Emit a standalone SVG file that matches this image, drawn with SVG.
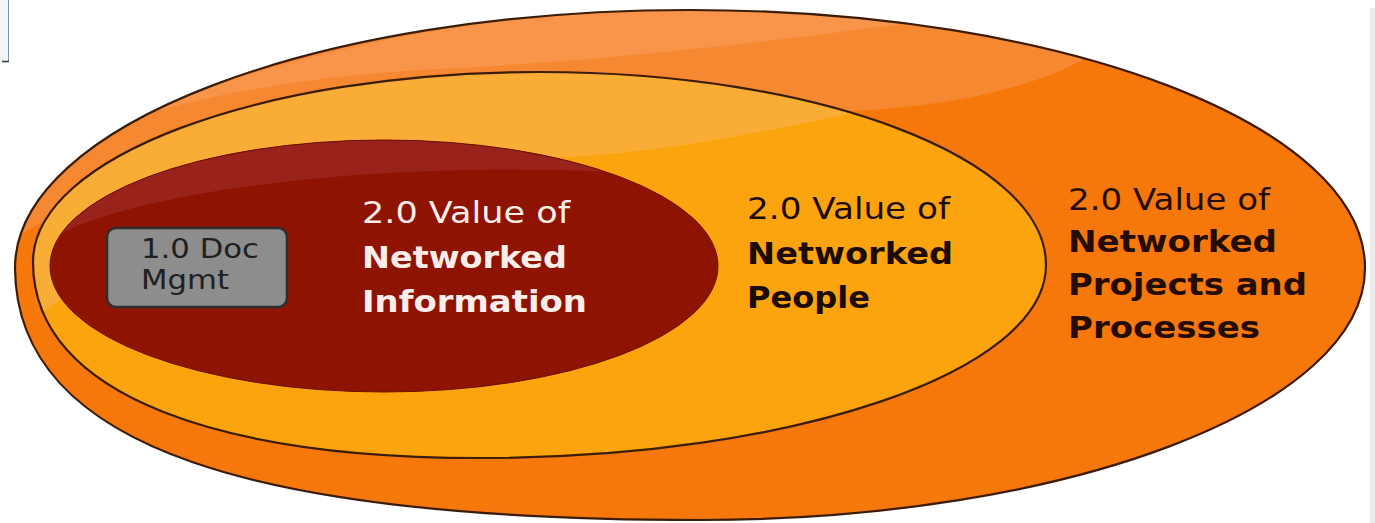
<svg xmlns="http://www.w3.org/2000/svg" width="1375" height="523" viewBox="0 0 1375 523">
  <style>
    .ring-edge { stroke: #3b1c07; stroke-width: 2.2; }
    .lbl { font-family: "DejaVu Sans", Verdana, sans-serif; font-size: 30px; }
    .lbl-b { font-weight: bold; }
    .on-red { fill: #fbeeea; }
    .on-gold { fill: #1c0b00; }
    .on-orange { fill: #250c00; }
    .doc-lbl { font-family: "DejaVu Sans", Verdana, sans-serif; font-size: 26px; fill: #202020; }
  </style>
  <defs>
    <clipPath id="clip-outer">
      <path d="M 15,268 C 15,125 317,10 690,10 C 1063,10 1365,125 1365,268 C 1365,407 1067,520 700,520 C 260,520 16,450 15,268 Z"/>
    </clipPath>
    <clipPath id="clip-middle">
      <path d="M 33,262 C 33,157 260,72 540,72 C 819,72 1046,158 1046,265 C 1046,372 793,458 480,458 C 230,458 33,400 33,262 Z"/>
    </clipPath>
    <clipPath id="clip-inner">
      <ellipse cx="384" cy="266" rx="334" ry="126"/>
    </clipPath>
  </defs>

  <rect width="1375" height="523" fill="#ffffff"/>

  <!-- window edge remnants along the borders -->
  <rect x="0" y="0" width="8.5" height="62" fill="#f3f5f8"/>
  <line x1="8.5" y1="0" x2="8.5" y2="62" stroke="#7d8ea6" stroke-width="1"/>
  <line x1="2" y1="61.5" x2="9" y2="61.5" stroke="#2c3644" stroke-width="1.5"/>
  <rect x="1370" y="8" width="5" height="515" fill="#ececec"/>

  <!-- outer ring: projects and processes -->
  <g id="ring-outer">
    <path d="M 15,268 C 15,125 317,10 690,10 C 1063,10 1365,125 1365,268 C 1365,407 1067,520 700,520 C 260,520 16,450 15,268 Z" fill="#f6780b"/>
    <g clip-path="url(#clip-outer)">
      <path d="M 10,240 C 200,130 560,118 830,112 C 950,108 1040,88 1100,50 L 1100,0 L 0,0 Z" fill="#f78832"/>
      <path d="M 140,116 C 250,82 380,71 460,68 C 640,58 800,38 930,20 L 930,-10 C 600,-10 300,40 140,116 Z" fill="#f8954a"/>
    </g>
    <path d="M 15,268 C 15,125 317,10 690,10 C 1063,10 1365,125 1365,268 C 1365,407 1067,520 700,520 C 260,520 16,450 15,268 Z" fill="none" class="ring-edge"/>
    <text class="lbl on-orange" x="1068" y="210" textLength="202" lengthAdjust="spacingAndGlyphs">2.0 Value of</text>
    <text class="lbl lbl-b on-orange" x="1068" y="252" textLength="209" lengthAdjust="spacingAndGlyphs">Networked</text>
    <text class="lbl lbl-b on-orange" x="1068" y="295" textLength="239" lengthAdjust="spacingAndGlyphs">Projects and</text>
    <text class="lbl lbl-b on-orange" x="1068" y="338" textLength="192" lengthAdjust="spacingAndGlyphs">Processes</text>
  </g>

  <!-- middle ring: people -->
  <g id="ring-middle">
    <path d="M 33,262 C 33,157 260,72 540,72 C 819,72 1046,158 1046,265 C 1046,372 793,458 480,458 C 230,458 33,400 33,262 Z" fill="#fba40e"/>
    <g clip-path="url(#clip-middle)">
      <path d="M 20,330 C 150,220 400,165 570,157 C 690,150 790,125 870,110 L 870,0 L 0,0 Z" fill="#f9ad37"/>
    </g>
    <path d="M 33,262 C 33,157 260,72 540,72 C 819,72 1046,158 1046,265 C 1046,372 793,458 480,458 C 230,458 33,400 33,262 Z" fill="none" class="ring-edge"/>
    <text class="lbl on-gold" x="747" y="219" textLength="203" lengthAdjust="spacingAndGlyphs">2.0 Value of</text>
    <text class="lbl lbl-b on-gold" x="747" y="264" textLength="206" lengthAdjust="spacingAndGlyphs">Networked</text>
    <text class="lbl lbl-b on-gold" x="747" y="308" textLength="123" lengthAdjust="spacingAndGlyphs">People</text>
  </g>

  <!-- inner ring: information -->
  <g id="ring-inner">
    <ellipse cx="384" cy="266" rx="334" ry="126" fill="#8e1300"/>
    <g clip-path="url(#clip-inner)">
      <path d="M 40,245 C 120,190 380,160 620,172 L 620,0 L 0,0 Z" fill="#99231a"/>
    </g>
    <ellipse cx="384" cy="266" rx="334" ry="126" fill="none" stroke="#6a0f00" stroke-width="1"/>
    <text class="lbl on-red" x="362" y="223" textLength="208" lengthAdjust="spacingAndGlyphs">2.0 Value of</text>
    <text class="lbl lbl-b on-red" x="362" y="268" textLength="205" lengthAdjust="spacingAndGlyphs">Networked</text>
    <text class="lbl lbl-b on-red" x="362" y="312" textLength="225" lengthAdjust="spacingAndGlyphs">Information</text>
  </g>

  <!-- legacy document management box -->
  <g id="doc-mgmt">
    <rect x="107" y="228" width="180" height="79" rx="9" fill="#8d8d8d" stroke="#2e2e2e" stroke-width="2.5"/>
    <text class="doc-lbl" x="141" y="258" textLength="118" lengthAdjust="spacingAndGlyphs">1.0 Doc</text>
    <text class="doc-lbl" x="141" y="289" textLength="88" lengthAdjust="spacingAndGlyphs">Mgmt</text>
  </g>

  <g id="connectors"/>
</svg>
